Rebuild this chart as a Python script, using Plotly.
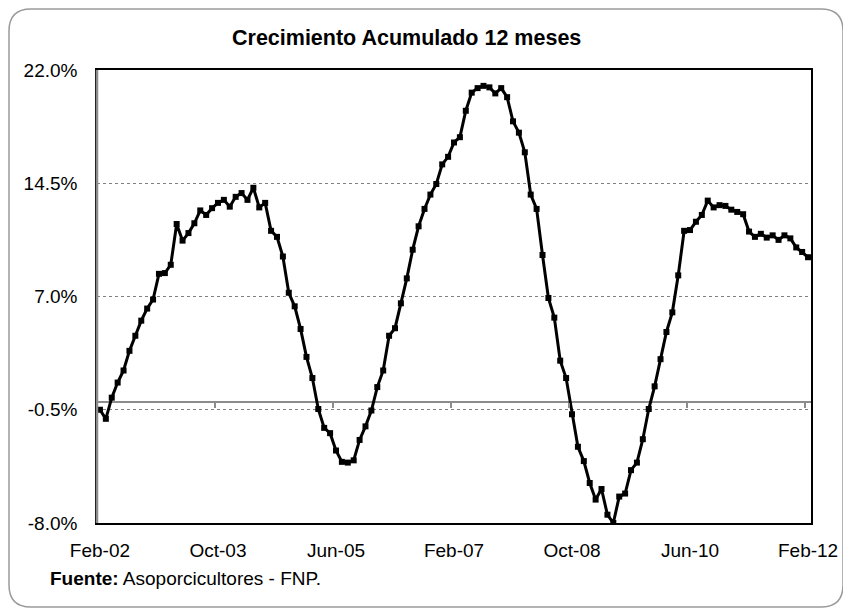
import plotly.graph_objects as go

# ---------------- data ----------------
month_names = ["Jan", "Feb", "Mar", "Apr", "May", "Jun",
               "Jul", "Aug", "Sep", "Oct", "Nov", "Dec"]
start_year, start_month, n_months = 2002, 1, 121   # Feb-02 .. Feb-12
months = []
for k in range(n_months):
    m = (start_month + k) % 12
    y = start_year + (start_month + k) // 12
    months.append(f"{month_names[m]}-{y % 100:02d}")

growth = [
    -0.5, -1.1, 0.3, 1.3, 2.1, 3.4, 4.4, 5.4, 6.2, 6.8, 8.5, 8.55,
    9.1, 11.8, 10.7, 11.2, 11.85, 12.7, 12.4, 12.85, 13.2, 13.4, 12.95, 13.6,
    13.85, 13.4, 14.2, 12.9, 13.2, 11.35, 10.95, 9.65, 7.25, 6.35, 4.85, 3.0,
    1.6, -0.45, -1.7, -2.05, -3.2, -3.95, -4.0, -3.85, -2.5, -1.6, -0.55, 1.0,
    2.1, 4.4, 4.9, 6.55, 8.2, 10.1, 11.65, 12.8, 13.75, 14.45, 15.75, 16.25,
    17.2, 17.55, 19.3, 20.5, 20.8, 20.95, 20.85, 20.45, 20.8, 20.2, 18.6, 17.85,
    16.55, 13.75, 12.8, 9.75, 6.9, 5.6, 2.75, 1.6, -0.8, -2.95, -3.9, -5.35,
    -6.45, -5.75, -7.45, -8.0, -6.25, -6.05, -4.5, -4.0, -2.45, -0.45, 1.05, 2.85,
    4.65, 5.95, 8.4, 11.35, 11.4, 11.95, 12.4, 13.35, 12.9, 13.05, 13.0, 12.75,
    12.6, 12.45, 11.3, 10.95, 11.15, 10.9, 11.05, 10.75, 11.05, 10.85, 10.25, 9.95,
    9.6,
]

x_tick_labels = ["Feb-02", "Oct-03", "Jun-05", "Feb-07", "Oct-08", "Jun-10", "Feb-12"]
y_tick_values = [-8.0, -0.5, 7.0, 14.5, 22.0]
y_tick_labels = [f"{v:.1f}%" for v in y_tick_values]
title_text = "Crecimiento Acumulado 12 meses"
source_text = "<b>Fuente:</b> Asoporcicultores - FNP."

# ---------------- layout geometry (pixels, page coordinates) ----------------
OFF = 8                       # default page margin around the plot div
W, H = 851 - OFF, 614 - OFF   # figure size that fits in the window
L, R, T, B = 97, 811, 70, 523  # plot area in page px


def px(x):
    return (x - L) / (R - L)


def py(y):
    return (B - y) / (B - T)


FONT = "Liberation Sans, Arial, sans-serif"

fig = go.Figure()
fig.add_trace(go.Scatter(
    x=months, y=growth, mode="lines+markers",
    line=dict(color="black", width=3),
    marker=dict(symbol="square", size=6, color="black"),
    showlegend=False, hoverinfo="x+y",
))
# helper trace so that the secondary (zero-line tick) axis is drawn
boundary_ticks = [i * 20 - 0.5 for i in range(1, 7)]
fig.add_trace(go.Scatter(
    x=boundary_ticks, y=[0] * len(boundary_ticks), xaxis="x2", yaxis="y",
    mode="markers", marker=dict(size=1, color="rgba(0,0,0,0)"),
    showlegend=False, hoverinfo="skip",
))

zero_pos = (0 - y_tick_values[0]) / (y_tick_values[-1] - y_tick_values[0])

fig.update_layout(
    width=W, height=H,
    margin=dict(l=L - OFF, r=851 - R, t=T - OFF, b=614 - B),
    paper_bgcolor="white", plot_bgcolor="white",
    font=dict(family=FONT, size=19, color="black"),
    xaxis=dict(
        type="category", categoryorder="array", categoryarray=months,
        range=[-0.5, n_months - 0.5],
        tickmode="array", tickvals=x_tick_labels, ticktext=x_tick_labels,
        showgrid=False, zeroline=False,
        showline=True, linecolor="black", linewidth=1.5, mirror=True,
        ticks="", ticklabelstandoff=9,
        tickfont=dict(size=19),
    ),
    xaxis2=dict(
        overlaying="x", anchor="free", position=zero_pos, side="bottom",
        range=[-0.5, n_months - 0.5],
        tickmode="array", tickvals=boundary_ticks,
        showticklabels=False, showgrid=False, zeroline=False, showline=False,
        ticks="outside", ticklen=5, tickwidth=1.5, tickcolor="#8c8c8c",
    ),
    yaxis=dict(
        range=[y_tick_values[0], y_tick_values[-1]],
        tickmode="array", tickvals=y_tick_values, ticktext=y_tick_labels,
        showgrid=True, gridcolor="#808080", gridwidth=1, griddash="dot",
        zeroline=True, zerolinecolor="#8c8c8c", zerolinewidth=2,
        showline=True, linecolor="black", linewidth=1.5, mirror=True,
        ticks="", ticklabelstandoff=14,
        tickfont=dict(size=19),
    ),
)

# left axis line in grey (over the black mirrored frame)
fig.add_shape(type="line", xref="paper", yref="paper", x0=0, x1=0, y0=0, y1=1,
              line=dict(color="#8c8c8c", width=2.5), layer="above")

# rounded outer frame (clamped to the visible figure area)
x0, y0, x1, y1, r = OFF + 1, OFF + 1, 843, 607, 22
path = (
    f"M {px(x0 + r)},{py(y0)} L {px(x1 - r)},{py(y0)} "
    f"Q {px(x1)},{py(y0)} {px(x1)},{py(y0 + r)} "
    f"L {px(x1)},{py(y1 - r)} Q {px(x1)},{py(y1)} {px(x1 - r)},{py(y1)} "
    f"L {px(x0 + r)},{py(y1)} Q {px(x0)},{py(y1)} {px(x0)},{py(y1 - r)} "
    f"L {px(x0)},{py(y0 + r)} Q {px(x0)},{py(y0)} {px(x0 + r)},{py(y0)} Z"
)
fig.add_shape(type="path", xref="paper", yref="paper", path=path,
              line=dict(color="#9a9a9a", width=1.5), layer="below")

fig.add_annotation(text=f"<b>{title_text}</b>", xref="paper", yref="paper",
                   x=px(406.5), y=py(38), xanchor="center", yanchor="middle",
                   showarrow=False, font=dict(size=21.5, family=FONT))
fig.add_annotation(text=source_text, xref="paper", yref="paper",
                   x=px(48), y=py(578), xanchor="left", yanchor="middle",
                   showarrow=False, font=dict(size=19, family=FONT))

fig.write_html("out.html")
